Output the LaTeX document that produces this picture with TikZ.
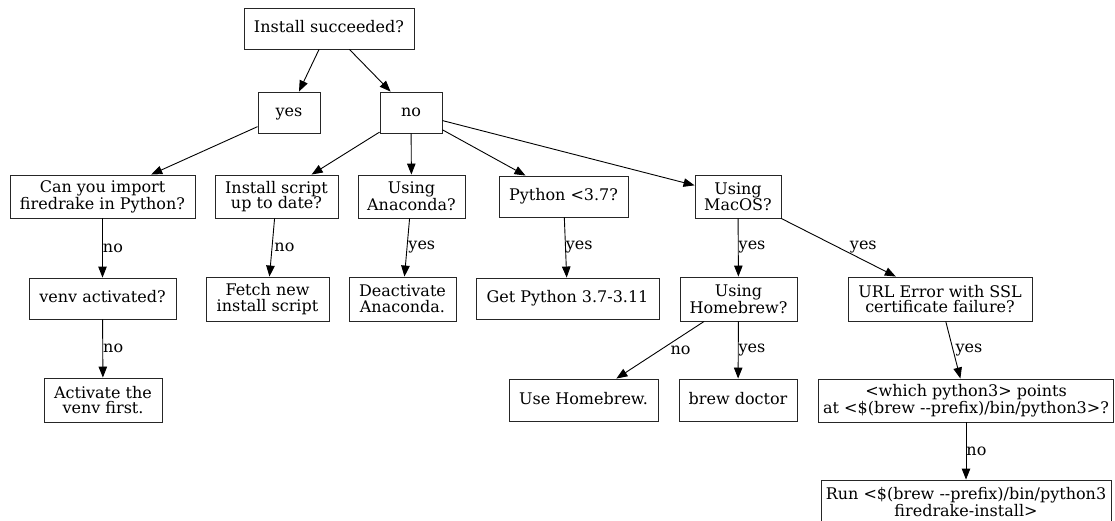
\documentclass[tikz,border=0pt]{standalone}
\usepackage{fontspec}
\setmainfont{DejaVu Serif}
\usetikzlibrary{arrows.meta}
\begin{document}
\begin{tikzpicture}[x=1pt,y=-1pt,
  box/.style={draw=black!85, line width=0.9pt, align=center, inner sep=0pt,
    font=\fontsize{16}{15.7}\selectfont},
  one/.style={text height=12.2pt, text depth=3.8pt},
  edge/.style={draw=black, line width=0.9pt, -{Triangle[length=11pt,width=8.5pt]}},
  lbl/.style={anchor=west, inner sep=0pt, font=\fontsize{16}{15.7}\selectfont}]
\useasboundingbox (0,0) rectangle (1115,521);
% nodes
\node[box, one, minimum width=170, minimum height=41] (start) at (329,28.5) {Install succeeded?};
\node[box, one, minimum width=62, minimum height=41] (yes) at (289,112.5) {yes};
\node[box, one, minimum width=62, minimum height=41] (no) at (411,112.5) {no};
\node[box, minimum width=185, minimum height=43] (can) at (102.5,196.5) {Can you import\\firedrake in Python?};
\node[box, minimum width=123, minimum height=43] (script) at (276.5,196.5) {Install script\\up to date?};
\node[box, minimum width=107, minimum height=43] (anaconda) at (411.5,196.5) {Using\\Anaconda?};
\node[box, one, minimum width=129, minimum height=41] (py) at (563.5,196.5) {Python <3.7?};
\node[box, minimum width=86, minimum height=43] (macos) at (738,196.5) {Using\\MacOS?};
\node[box, one, minimum width=147, minimum height=41] (venv) at (102.5,298.5) {venv activated?};
\node[box, minimum width=123, minimum height=44] (fetch) at (267.5,299) {Fetch new\\install script};
\node[box, minimum width=107, minimum height=44] (deact) at (402.5,299) {Deactivate\\Anaconda.};
\node[box, one, minimum width=183, minimum height=41] (getpy) at (567.5,298.5) {Get Python 3.7-3.11};
\node[box, minimum width=117, minimum height=44] (hb) at (738.5,299) {Using\\Homebrew?};
\node[box, minimum width=184, minimum height=44] (url) at (940,299) {URL Error with SSL\\certificate failure?};
\node[box, minimum width=118, minimum height=44] (act) at (103,400) {Activate the\\venv first.};
\node[box, one, minimum width=149, minimum height=42] (usehb) at (583.5,400) {Use Homebrew.};
\node[box, one, minimum width=118, minimum height=42] (doctor) at (738,400) {brew doctor};
\node[box, minimum width=295, minimum height=43] (which) at (966,400.5) {<which python3> points\\at <\$(brew -{}-prefix)/bin/python3>?};
\node[box, minimum width=290, minimum height=44] (run) at (966,502) {Run <\$(brew -{}-prefix)/bin/python3\\firedrake-install>};
% edges
\draw[edge] (start) -- (yes);
\draw[edge] (start) -- (no);
\draw[edge] (yes) -- (can);
\draw[edge] (no) -- (script);
\draw[edge] (no) -- (anaconda);
\draw[edge] (no) -- (py);
\draw[edge] (no) -- (macos);
\draw[edge] (can) -- node[lbl]{no} (venv);
\draw[edge] (script) -- node[lbl, xshift=2]{no} (fetch);
\draw[edge] (anaconda) -- node[lbl, xshift=1]{yes} (deact);
\draw[edge] (py) -- node[lbl]{yes} (getpy);
\draw[edge] (macos) -- node[lbl]{yes} (hb);
\draw[edge] (macos) -- node[lbl, xshift=11]{yes} (url);
\draw[edge] (venv) -- node[lbl]{no} (act);
\draw[edge] (hb) -- node[lbl, xshift=10]{no} (usehb);
\draw[edge] (hb) -- node[lbl]{yes} (doctor);
\draw[edge] (url) -- node[lbl, xshift=2]{yes} (which);
\draw[edge] (which) -- node[lbl]{no} (run);
\end{tikzpicture}
\end{document}
